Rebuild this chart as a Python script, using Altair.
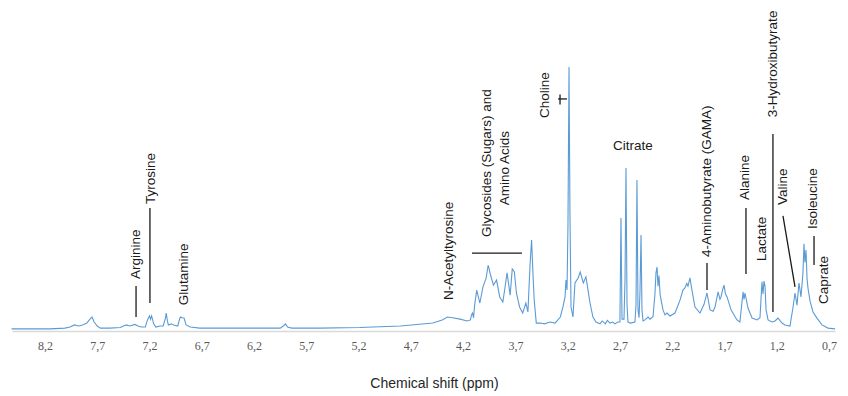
import altair as alt
import pandas as pd

# ---- spectrum (chemical shift in ppm, relative intensity, choline = 100) ----
PPM = [8.52, 8.34, 8.15, 8.01, 7.96, 7.92, 7.88, 7.84, 7.80, 7.77, 7.75, 7.73, 7.70, 7.67,
       7.58, 7.48, 7.45, 7.42, 7.39, 7.34, 7.31, 7.28, 7.24, 7.22, 7.20, 7.19, 7.18, 7.16, 7.14,
       7.10, 7.07, 7.05, 7.04, 7.03, 7.02, 6.99, 6.97, 6.93, 6.91, 6.90, 6.89, 6.87, 6.85, 6.81,
       6.72, 6.24, 5.95, 5.92, 5.90, 5.88, 5.84, 5.57, 5.19, 4.80, 4.49, 4.40, 4.35, 4.30, 4.23,
       4.16, 4.13, 4.12, 4.11, 4.10, 4.09, 4.07, 4.04, 4.01, 3.98, 3.96, 3.94, 3.91, 3.88, 3.85,
       3.82, 3.80, 3.78, 3.75, 3.73, 3.71, 3.69, 3.66, 3.63, 3.60, 3.58, 3.56, 3.545, 3.53, 3.52,
       3.50, 3.46, 3.42, 3.37, 3.32, 3.27, 3.245, 3.225, 3.216, 3.206, 3.197, 3.187, 3.178, 3.168,
       3.149, 3.13, 3.10, 3.08, 3.05, 3.025, 3.005, 2.986, 2.958, 2.929, 2.89, 2.87, 2.84, 2.82,
       2.795, 2.77, 2.747, 2.72, 2.70, 2.69, 2.68, 2.661, 2.651, 2.642, 2.632, 2.623, 2.60, 2.556,
       2.546, 2.537, 2.527, 2.517, 2.508, 2.498, 2.489, 2.479, 2.46, 2.431, 2.412, 2.383, 2.365,
       2.355, 2.345, 2.336, 2.326, 2.316, 2.307, 2.288, 2.269, 2.250, 2.221, 2.173, 2.125, 2.097,
       2.078, 2.06, 2.049, 2.030, 2.011, 1.982, 1.934, 1.896, 1.867, 1.838, 1.809, 1.790, 1.761,
       1.743, 1.733, 1.715, 1.704, 1.690, 1.675, 1.637, 1.58, 1.552, 1.522, 1.513, 1.503, 1.475,
       1.436, 1.389, 1.36, 1.341, 1.331, 1.322, 1.312, 1.302, 1.283, 1.245, 1.216, 1.188, 1.149,
       1.121, 1.073, 1.044, 1.025, 1.006, 0.987, 0.968, 0.949, 0.939, 0.930, 0.920, 0.910, 0.901,
       0.882, 0.853, 0.815, 0.767, 0.709, 0.642]
INTENSITY = [0.8, 0.8, 0.8, 1.1, 1.5, 2.3, 1.9, 2.3, 3.0, 4.5, 5.3, 3.4, 1.9, 1.1,
             1.1, 1.3, 1.9, 2.3, 1.9, 2.5, 1.9, 1.5, 1.5, 4.2, 5.7, 4.5, 5.7, 2.7, 1.5,
             1.9, 1.9, 4.5, 6.8, 4.0, 2.3, 2.7, 2.3, 1.9, 4.9, 5.3, 5.0, 4.9, 2.3, 1.5,
             1.1, 1.1, 1.1, 1.9, 2.7, 1.5, 1.1, 1.1, 1.3, 1.9, 3.0, 4.2, 5.3, 5.0, 4.5,
             3.8, 4.2, 6.1, 6.8, 5.0, 9.8, 15.5, 10.6, 16.7, 20.0, 25.0, 21.5, 17.4, 19.3, 12.9,
             11.0, 16.3, 22.0, 13.6, 23.5, 22.5, 14.4, 9.1, 6.8, 10.6, 7.2, 25.0, 34.5, 20.0, 11.7,
             3.0, 3.0, 2.7, 3.4, 3.0, 5.3, 9.1, 12.9, 19.3, 15.5, 40.0, 100.0, 45.0, 9.1,
             5.3, 18.2, 20.1, 22.3, 18.2, 20.5, 15.5, 10.6, 5.3, 3.4, 2.7, 3.8, 2.7, 4.0,
             3.0, 3.4, 2.7, 3.4, 3.4, 42.8, 4.5, 4.5, 20.0, 61.7, 10.0, 3.4, 3.0, 3.4,
             10.0, 57.2, 8.0, 5.0, 15.0, 36.4, 8.0, 3.8, 4.2, 5.3, 4.5, 5.5, 14.0,
             22.0, 24.2, 17.0, 21.0, 14.0, 12.0, 8.0, 6.1, 6.8, 5.7, 6.8, 11.7, 15.5,
             16.3, 18.0, 17.0, 20.1, 15.5, 9.1, 6.8, 10.0, 14.4, 8.0, 7.5, 9.1, 14.8,
             12.0, 12.9, 16.0, 17.4, 14.0, 12.9, 8.0, 4.2, 3.4, 14.8, 12.0, 14.4, 8.7,
             4.9, 4.2, 5.0, 18.6, 14.0, 18.9, 17.0, 8.0, 4.2, 3.4, 3.8, 4.9, 3.0,
             2.3, 1.9, 9.0, 14.4, 9.8, 18.2, 12.9, 22.0, 33.0, 26.0, 30.7, 20.0, 16.3,
             11.5, 7.2, 4.9, 2.3, 1.1, 0.8]

# ---- x axis ticks ----
TICKS = [8.2, 7.7, 7.2, 6.7, 6.2, 5.7, 5.2, 4.7, 4.2, 3.7, 3.2, 2.7, 2.2, 1.7, 1.2, 0.7]

# ---- rotated labels (anchor = start of text, reading upwards) ----
LABELS = ["Arginine", "Tyrosine", "Glutamine", "N-Acetyltyrosine", "Choline",
          "4-Aminobutyrate (GAMA)", "Alanine", "Lactate", "3-Hydroxibutyrate",
          "Valine", "Isoleucine", "Caprate"]
LABEL_PPM = [7.329, 7.186, 6.870, 4.335, 3.417, 1.867, 1.503, 1.341, 1.236, 1.140, 0.853, 0.748]
LABEL_INT = [19.7, 48.1, 9.8, 11.7, 80.7, 28.0, 49.6, 26.5, 81.0, 47.7, 38.6, 10.2]

# two-line centred label
GLY_LINES = ["Glycosides (Sugars) and", "Amino Acids"]
GLY_PPM = [3.972, 3.799]
GLY_INT = [63.6, 61.7]

# horizontal label
CIT_LABEL = ["Citrate"]
CIT_PPM = [2.575]
CIT_INT = [70.1]

# ---- annotation segments ----
SEG_PPM1 = [7.329, 7.196, 4.115, 3.292, 3.273, 1.867, 1.494, 1.236, 1.140, 0.843]
SEG_INT1 = [17.0, 46.6, 29.5, 87.9, 89.6, 25.8, 46.6, 74.6, 43.6, 36.0]
SEG_PPM2 = [7.329, 7.196, 3.637, 3.206, 3.273, 1.867, 1.494, 1.236, 1.025, 0.843]
SEG_INT2 = [5.3, 10.6, 29.5, 87.9, 85.8, 15.5, 21.6, 7.2, 16.7, 25.0]

spec = pd.DataFrame({"ppm": PPM, "intensity": INTENSITY})
labels = pd.DataFrame({"label": LABELS, "ppm": LABEL_PPM, "intensity": LABEL_INT})
gly = pd.DataFrame({"label": GLY_LINES, "ppm": GLY_PPM, "intensity": GLY_INT})
cit = pd.DataFrame({"label": CIT_LABEL, "ppm": CIT_PPM, "intensity": CIT_INT})
segs = pd.DataFrame({"p1": SEG_PPM1, "i1": SEG_INT1, "p2": SEG_PPM2, "i2": SEG_INT2})

xscale = alt.Scale(domain=[0.6424, 8.5157], reverse=True, nice=False, zero=False)
yscale = alt.Scale(domain=[0, 100], nice=False, zero=False)

xaxis = alt.Axis(
    title="Chemical shift (ppm)", values=TICKS, format=".1f",
    labelExpr="replace(datum.label, '.', ',')",
    grid=False, ticks=False, tickSize=0, domain=True,
    domainColor="#d9d9d9", domainWidth=1.5,
    labelFont="Liberation Sans Narrow", labelFontSize=12, labelColor="#595959",
    labelPadding=14, labelBaseline="middle",
    titleFont="Liberation Sans", titleFontSize=14, titleFontWeight="normal",
    titleColor="#262626", titleX=422, titleY=52, titleAlign="center",
    titleBaseline="middle",
)

base_x = alt.X("ppm:Q", scale=xscale, axis=xaxis)

line = alt.Chart(spec).mark_line(color="#5b9bd5", strokeWidth=1.1, interpolate="linear").encode(
    x=base_x,
    y=alt.Y("intensity:Q", scale=yscale, axis=None),
)

rules = alt.Chart(segs).mark_rule(color="#1a1a1a", strokeWidth=1.3).encode(
    x=alt.X("p1:Q", scale=xscale),
    y=alt.Y("i1:Q", scale=yscale),
    x2="p2:Q",
    y2="i2:Q",
)

FS = 13.5

rot_text = alt.Chart(labels).mark_text(
    angle=270, align="left", baseline="middle", font="Liberation Sans",
    fontSize=FS, color="#1a1a1a",
).encode(
    x=alt.X("ppm:Q", scale=xscale),
    y=alt.Y("intensity:Q", scale=yscale),
    text="label:N",
)

gly_text = alt.Chart(gly).mark_text(
    angle=270, align="center", baseline="middle", font="Liberation Sans",
    fontSize=FS, color="#1a1a1a",
).encode(
    x=alt.X("ppm:Q", scale=xscale),
    y=alt.Y("intensity:Q", scale=yscale),
    text="label:N",
)

cit_text = alt.Chart(cit).mark_text(
    align="center", baseline="middle", font="Liberation Sans",
    fontSize=FS, color="#1a1a1a",
).encode(
    x=alt.X("ppm:Q", scale=xscale),
    y=alt.Y("intensity:Q", scale=yscale),
    text="label:N",
)

chart = alt.layer(line, rules, rot_text, gly_text, cit_text).properties(
    width=823, height=264,
    autosize=alt.AutoSizeParams(type="none"),
    padding={"left": 4, "top": 59, "right": 5, "bottom": 62},
    background="white",
).configure_view(stroke=None)

chart.save("out.html", embed_options={"renderer": "svg", "actions": False})
